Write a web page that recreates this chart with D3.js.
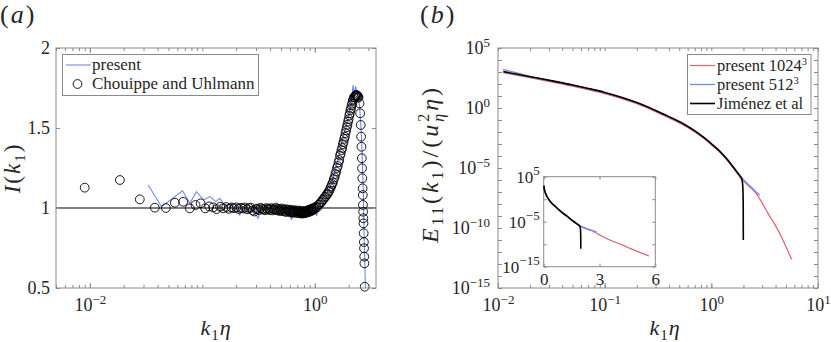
<!DOCTYPE html>
<html>
<head>
<meta charset="utf-8">
<script src="https://cdn.jsdelivr.net/npm/d3@7"></script>
<style>
  body { margin: 0; background: #fff; }
  svg { display: block; }
</style>
</head>
<body>
<script>
// ---- panel (a): I(k1) ----
const cuK = [0.0090, 0.0185, 0.0278, 0.0378, 0.0474, 0.0570, 0.0675, 0.0774, 0.0870, 0.0965, 0.106,
  0.115, 0.125, 0.134, 0.144, 0.153, 0.163, 0.172, 0.182, 0.191, 0.201, 0.210, 0.220, 0.230, 0.24, 0.25,
  0.26, 0.27, 0.28, 0.29, 0.30, 0.31, 0.32, 0.33, 0.34, 0.35, 0.36, 0.37, 0.38,
  0.39, 0.40, 0.41, 0.42, 0.43, 0.44, 0.45, 0.46, 0.47, 0.48, 0.49, 0.50, 0.51, 0.52, 0.53, 0.54, 0.55,
  0.56, 0.57, 0.58, 0.59, 0.60, 0.61, 0.62, 0.63, 0.64, 0.65, 0.66, 0.67, 0.68, 0.69, 0.70, 0.71, 0.72,
  0.73, 0.74, 0.75, 0.76, 0.77, 0.78, 0.79, 0.80, 0.81, 0.82, 0.83, 0.84, 0.85, 0.86, 0.87, 0.88, 0.89,
  0.90, 0.91, 0.92, 0.93, 0.94, 0.95, 0.96, 0.97, 0.98,
  1.000, 1.025, 1.05, 1.075, 1.10, 1.125, 1.15, 1.175, 1.20, 1.225, 1.25, 1.275, 1.30, 1.325, 1.35, 1.375,
  1.40, 1.425, 1.45, 1.475, 1.50, 1.525, 1.55, 1.575, 1.60, 1.625, 1.65, 1.675, 1.70, 1.725, 1.75, 1.775,
  1.80, 1.825, 1.85, 1.875, 1.90, 1.925, 1.95, 1.975, 2.00, 2.025, 2.05, 2.075, 2.10, 2.125, 2.15, 2.175,
  2.20, 2.225, 2.25, 2.275, 2.30, 2.325, 2.35, 2.375, 2.40, 2.425,
  2.45, 2.50, 2.53, 2.56, 2.58, 2.60, 2.62, 2.63, 2.645, 2.66, 2.67, 2.68, 2.69, 2.70, 2.71, 2.72, 2.73,
  2.74, 2.75, 2.76, 2.78];
const cuI = [1.127, 1.175, 1.054, 1.002, 1.000, 1.033, 1.039, 0.998, 1.019, 1.029, 0.998,
  1.010, 1.004, 0.993, 1.008, 0.998, 1.006, 0.995, 1.003, 0.999, 1.004, 0.994, 1.001, 0.997, 1.003, 0.992,
  0.999, 1.002, 0.985, 0.978, 0.993, 0.996, 0.987, 1.001, 0.992, 0.995, 0.986, 0.999, 0.990,
  0.996, 0.988, 0.999, 0.985, 0.993, 0.990, 1.002, 0.986, 0.995, 0.982, 0.991, 0.984, 0.997, 0.980, 0.990, 0.978, 0.992,
  0.975, 0.986, 0.990, 0.979, 0.984, 0.972, 0.988, 0.977, 0.970, 0.983, 0.975, 0.986, 0.972, 0.980, 0.968, 0.978, 0.984,
  0.970, 0.975, 0.966, 0.982, 0.972, 0.965, 0.977, 0.970, 0.980, 0.968, 0.976, 0.983, 0.971, 0.979, 0.986, 0.975, 0.984,
  0.990, 0.978, 0.987, 0.994, 0.983, 0.992, 0.998, 0.988, 1.000,
  0.995, 1.008, 1.004, 1.020, 1.022, 1.035, 1.038, 1.052, 1.055, 1.068, 1.072, 1.085, 1.088, 1.102, 1.108, 1.125,
  1.135, 1.150, 1.160, 1.180, 1.192, 1.212, 1.228, 1.250, 1.262, 1.285, 1.300, 1.328, 1.340, 1.362, 1.375, 1.398,
  1.412, 1.432, 1.445, 1.468, 1.485, 1.505, 1.520, 1.540, 1.555, 1.578, 1.592, 1.612, 1.622, 1.642, 1.652, 1.670,
  1.678, 1.690, 1.692, 1.700, 1.702, 1.706, 1.705, 1.702, 1.700, 1.695,
  1.690, 1.654, 1.592, 1.519, 1.446, 1.383, 1.311, 1.248, 1.186, 1.123, 1.081, 1.019, 0.977, 0.936, 0.904, 0.842, 0.787,
  0.748, 0.696, 0.654, 0.508];

const preK = [0.033, 0.0434, 0.0667, 0.0774, 0.0888, 0.103, 0.1166, 0.132, 0.143, 0.163, 0.18, 0.20, 0.215,
  0.23, 0.25, 0.27, 0.29, 0.313, 0.33, 0.36, 0.39, 0.42, 0.45, 0.48, 0.51, 0.55, 0.59, 0.62, 0.65, 0.69,
  0.73, 0.77, 0.81, 0.85, 0.89, 0.93, 0.97, 1.0, 1.04, 1.08, 1.12, 1.2, 1.3, 1.4, 1.5, 1.6, 1.7, 1.8,
  1.9, 2.0, 2.1, 2.19, 2.25, 2.30, 2.38, 2.5, 2.6, 2.7, 2.75, 2.82];
const preI = [1.144, 1.008, 1.108, 1.029, 1.102, 1.05, 1.071, 1.04, 1.06, 1.008, 1.03, 0.995, 0.956,
  1.01, 0.99, 1.005, 0.975, 0.935, 1.0, 0.985, 1.005, 0.97, 0.995, 0.96, 1.0, 0.975, 0.99, 0.925, 0.99, 0.96,
  0.985, 0.955, 0.99, 0.965, 1.0, 0.97, 0.99, 1.0, 0.95, 1.03, 1.03, 1.07, 1.10, 1.15, 1.22, 1.30, 1.38, 1.45,
  1.51, 1.58, 1.65, 1.769, 1.70, 1.76, 1.72, 1.64, 1.45, 1.1, 0.8, 0.5];

const aYTicks = [0.5, 1, 1.5, 2];
const aXLabels = [0.01, 1];

// ---- panel (b): E11 spectra, values are log10(E11) ----
const redK = [0.0112, 0.02, 0.035, 0.05, 0.07, 0.1, 0.14, 0.2, 0.3, 0.4, 0.55, 0.7, 0.85, 1.0, 1.2, 1.4,
  1.6, 1.8, 2.0, 2.3, 2.55, 2.9, 3.4, 4.0, 4.53, 5.1, 5.66];
const redLogE = [2.94, 2.52, 2.1, 1.82, 1.53, 1.2, 0.82, 0.35, -0.3, -0.82, -1.43, -2.0, -2.55, -3.08, -3.7, -4.35,
  -5.0, -5.6, -6.1, -6.6, -6.97, -7.7, -8.78, -9.8, -10.72, -11.7, -12.61];

const bluK = [0.0112, 0.015, 0.02, 0.035, 0.05, 0.07, 0.1, 0.14, 0.2, 0.3, 0.4, 0.55, 0.7, 0.85, 1.0, 1.2,
  1.4, 1.6, 1.8, 2.0, 2.2, 2.4, 2.6, 2.75, 2.84];
const bluLogE = [3.22, 2.93, 2.64, 2.2, 1.92, 1.63, 1.3, 0.92, 0.45, -0.2, -0.72, -1.33, -1.9, -2.45, -2.98, -3.6,
  -4.25, -4.9, -5.5, -5.95, -6.32, -6.65, -6.95, -7.15, -7.28];

const jimK = [0.0112, 0.02, 0.035, 0.05, 0.07, 0.1, 0.14, 0.2, 0.3, 0.4, 0.55, 0.7, 0.85, 1.0, 1.2, 1.4,
  1.6, 1.8, 1.9, 1.95, 1.975, 1.99, 1.995];
const jimLogE = [3.03, 2.61, 2.2, 1.92, 1.63, 1.3, 0.92, 0.45, -0.2, -0.72, -1.33, -1.9, -2.45, -2.98, -3.6, -4.25,
  -4.9, -5.5, -5.8, -6.1, -6.6, -8.0, -11.0];

const bYLabels = [1e5, 1, 1e-5, 1e-10, 1e-15];
const bXLabels = [0.01, 0.1, 1, 10];
const insetXTicks = [0, 3, 6];
const insetYTicks = [1e5, 1, 1e-5, 1e-10, 1e-15];
const insetYLabels = [1e5, 1e-5, 1e-15];

const serif = "'Liberation Serif', 'DejaVu Serif', serif";
const ink = "#262626", boxCol = "#8a8a8a";
const cBlue = "#7088f5", cRed = "#e0606e";

const svg = d3.select("body").append("svg")
  .attr("width", 831).attr("height", 342)
  .style("font-family", serif);

function supLabels(sel) {
  sel.selectAll(".tick text").each(function(d) {
    const e = Math.round(Math.log10(d));
    const t = d3.select(this).text("");
    t.append("tspan").text("10");
    t.append("tspan").attr("dy", "-0.55em").attr("font-size", 13)
      .text(e < 0 ? "\u2212" + (-e) : e);
  });
}

function styleAxis(g, size) {
  g.select(".domain").remove();
  g.selectAll(".tick line").attr("stroke", boxCol);
  g.attr("font-family", serif).attr("font-size", size || 18);
  g.selectAll(".tick text").attr("fill", ink);
}

function logMinor(lo, hi) {
  const out = [];
  for (let e = -16; e <= 6; e++) for (let m = 1; m <= 9; m++) {
    const v = m * Math.pow(10, e);
    if (v >= lo * 0.9999 && v <= hi * 1.0001) out.push(v);
  }
  return out;
}

// ================= panel (a) =================
const xa = d3.scaleLog().domain([0.005, 3.5]).range([56, 376]);
const ya = d3.scaleLinear().domain([0.5, 2]).range([288, 48]);

svg.append("line")
  .attr("x1", 56).attr("x2", 376).attr("y1", ya(1)).attr("y2", ya(1))
  .attr("stroke", "#000").attr("stroke-width", 1);

const lineA = d3.line().x(d => xa(d[0])).y(d => ya(d[1]));
svg.append("path")
  .datum(d3.zip(preK, preI))
  .attr("fill", "none").attr("stroke", cBlue).attr("stroke-width", 1.1)
  .attr("d", lineA);

svg.append("g").selectAll("circle")
  .data(d3.zip(cuK, cuI))
  .join("circle")
  .attr("cx", d => xa(d[0])).attr("cy", d => ya(d[1])).attr("r", 4.4)
  .attr("fill", "none").attr("stroke", "#000").attr("stroke-width", 0.9);

// axes (a)
svg.append("g").attr("transform", "translate(0,288)")
  .call(d3.axisBottom(xa).tickValues(logMinor(0.005, 3.5)).tickSize(-3).tickFormat(""))
  .call(styleAxis);
svg.append("g").attr("transform", "translate(0,48)")
  .call(d3.axisTop(xa).tickValues(logMinor(0.005, 3.5)).tickSize(-3).tickFormat(""))
  .call(styleAxis);
svg.append("g").attr("transform", "translate(0,288)")
  .call(d3.axisBottom(xa).tickValues(aXLabels).tickSize(-5).tickPadding(10))
  .call(styleAxis).call(supLabels);
svg.append("g").attr("transform", "translate(0,48)")
  .call(d3.axisTop(xa).tickValues(aXLabels).tickSize(-5).tickFormat(""))
  .call(styleAxis);
svg.append("g").attr("transform", "translate(56,0)")
  .call(d3.axisLeft(ya).tickValues(aYTicks).tickSize(-4).tickPadding(6).tickFormat(d3.format("")))
  .call(styleAxis);
svg.append("g").attr("transform", "translate(376,0)")
  .call(d3.axisRight(ya).tickValues(aYTicks).tickSize(-4).tickFormat(""))
  .call(styleAxis);
svg.append("rect").attr("x", 56).attr("y", 48).attr("width", 320).attr("height", 240)
  .attr("fill", "none").attr("stroke", boxCol);

// legend (a)
const legA = svg.append("g");
legA.append("rect").attr("x", 62.5).attr("y", 54.5).attr("width", 196).attr("height", 41)
  .attr("fill", "#fff").attr("stroke", boxCol);
legA.append("line").attr("x1", 66).attr("x2", 91).attr("y1", 65).attr("y2", 65)
  .attr("stroke", cBlue).attr("stroke-width", 1.1);
legA.append("text").attr("x", 92).attr("y", 70).attr("font-size", 17).attr("fill", ink).text("present");
legA.append("circle").attr("cx", 77.5).attr("cy", 84).attr("r", 4.4)
  .attr("fill", "none").attr("stroke", "#000").attr("stroke-width", 0.9);
legA.append("text").attr("x", 92).attr("y", 89).attr("font-size", 17).attr("fill", ink).text("Chouippe and Uhlmann");

// labels (a)
svg.append("text").attr("x", 0).attr("y", 23).attr("font-size", 26).attr("letter-spacing", 2).attr("fill", ink)
  .html('(<tspan font-style="italic">a</tspan>)');
const ylabA = svg.append("text").attr("transform", "translate(20,168) rotate(-90)")
  .attr("text-anchor", "middle").attr("font-size", 23).attr("letter-spacing", 2).attr("fill", ink);
ylabA.append("tspan").attr("font-style", "italic").text("I");
ylabA.append("tspan").text("(");
ylabA.append("tspan").attr("font-style", "italic").text("k");
ylabA.append("tspan").attr("font-size", 15).attr("dy", 5).text("1");
ylabA.append("tspan").attr("dy", -5).text(")");
const xlabA = svg.append("text").attr("x", 216).attr("y", 335)
  .attr("text-anchor", "middle").attr("font-size", 22).attr("letter-spacing", 1).attr("fill", ink);
xlabA.append("tspan").attr("font-style", "italic").text("k");
xlabA.append("tspan").attr("font-size", 15).attr("dy", 5).text("1");
xlabA.append("tspan").attr("font-style", "italic").attr("dy", -5).text("\u03b7");

// ================= panel (b) =================
const xb = d3.scaleLog().domain([0.01, 10]).range([498, 818]);
const yb = d3.scaleLog().domain([1e-15, 1e5]).range([288, 48]);

const series = [
  { k: redK, e: redLogE, color: cRed, w: 1.2 },
  { k: bluK, e: bluLogE, color: cBlue, w: 1.3 },
  { k: jimK, e: jimLogE, color: "#000", w: 1.6 }
];

const lineB = d3.line().curve(d3.curveMonotoneX).x(d => xb(d[0])).y(d => yb(Math.pow(10, d[1])));
series.forEach(s => {
  svg.append("path").datum(d3.zip(s.k, s.e))
    .attr("fill", "none").attr("stroke", s.color).attr("stroke-width", s.w)
    .attr("d", lineB);
});

svg.append("g").attr("transform", "translate(0,288)")
  .call(d3.axisBottom(xb).tickValues(logMinor(0.01, 10)).tickSize(-3).tickFormat(""))
  .call(styleAxis);
svg.append("g").attr("transform", "translate(0,48)")
  .call(d3.axisTop(xb).tickValues(logMinor(0.01, 10)).tickSize(-3).tickFormat(""))
  .call(styleAxis);
svg.append("g").attr("transform", "translate(0,288)")
  .call(d3.axisBottom(xb).tickValues(bXLabels).tickSize(-5).tickPadding(10))
  .call(styleAxis).call(supLabels);
const decades = d3.range(-15, 6).map(e => Math.pow(10, e));
svg.append("g").attr("transform", "translate(498,0)")
  .call(d3.axisLeft(yb).tickValues(decades).tickSize(-4).tickFormat(""))
  .call(styleAxis);
svg.append("g").attr("transform", "translate(818,0)")
  .call(d3.axisRight(yb).tickValues(decades).tickSize(-4).tickFormat(""))
  .call(styleAxis);
svg.append("g").attr("transform", "translate(498,0)")
  .call(d3.axisLeft(yb).tickValues(bYLabels).tickSize(0).tickPadding(8))
  .call(styleAxis).call(supLabels);
svg.append("rect").attr("x", 498).attr("y", 48).attr("width", 320).attr("height", 240)
  .attr("fill", "none").attr("stroke", boxCol);

// inset
const xi = d3.scaleLinear().domain([0, 6]).range([543.7, 655.3]);
const yi = d3.scaleLog().domain([1e-15, 1e5]).range([266.7, 176.7]);
svg.append("rect").attr("x", 543.7).attr("y", 176.7).attr("width", 111.6).attr("height", 90)
  .attr("fill", "#fff").attr("stroke", boxCol);
const lineI = d3.line().curve(d3.curveMonotoneX).x(d => xi(d[0])).y(d => yi(Math.pow(10, d[1])));
series.forEach(s => {
  svg.append("path").datum(d3.zip(s.k, s.e))
    .attr("fill", "none").attr("stroke", s.color).attr("stroke-width", s.w)
    .attr("d", lineI);
});
svg.append("g").attr("transform", "translate(0,266.7)")
  .call(d3.axisBottom(xi).tickValues(insetXTicks).tickSize(-3).tickPadding(6).tickFormat(d3.format("")))
  .call(g => styleAxis(g, 17));
svg.append("g").attr("transform", "translate(0,176.7)")
  .call(d3.axisTop(xi).tickValues(insetXTicks).tickSize(-3).tickFormat(""))
  .call(g => styleAxis(g, 17));
svg.append("g").attr("transform", "translate(543.7,0)")
  .call(d3.axisLeft(yi).tickValues(insetYTicks).tickSize(-3).tickFormat(""))
  .call(g => styleAxis(g, 17));
svg.append("g").attr("transform", "translate(655.3,0)")
  .call(d3.axisRight(yi).tickValues(insetYTicks).tickSize(-3).tickFormat(""))
  .call(g => styleAxis(g, 17));
svg.append("g").attr("transform", "translate(543.7,0)")
  .call(d3.axisLeft(yi).tickValues(insetYLabels).tickSize(0).tickPadding(4))
  .call(g => styleAxis(g, 17)).call(supLabels);

// legend (b)
const legB = svg.append("g");
legB.append("rect").attr("x", 687.5).attr("y", 54.5).attr("width", 123.5).attr("height", 60)
  .attr("fill", "#fff").attr("stroke", boxCol);
const legRows = [
  { label: "present 1024", sup: "3", color: cRed, w: 1.2 },
  { label: "present 512", sup: "3", color: cBlue, w: 1.3 },
  { label: "Jim\u00e9nez et al", sup: "", color: "#000", w: 1.6 }
];
legRows.forEach((r, i) => {
  const y = 65.5 + i * 19;
  legB.append("line").attr("x1", 690).attr("x2", 715).attr("y1", y).attr("y2", y)
    .attr("stroke", r.color).attr("stroke-width", r.w);
  const t = legB.append("text").attr("x", 717).attr("y", y + 5).attr("font-size", 16.5).attr("fill", ink);
  t.append("tspan").text(r.label);
  if (r.sup) t.append("tspan").attr("dy", -6).attr("font-size", 10.5).text(r.sup);
});

// labels (b)
svg.append("text").attr("x", 420).attr("y", 23).attr("font-size", 26).attr("letter-spacing", 2).attr("fill", ink)
  .html('(<tspan font-style="italic">b</tspan>)');
const xlabB = svg.append("text").attr("x", 665).attr("y", 335)
  .attr("text-anchor", "middle").attr("font-size", 22).attr("letter-spacing", 1).attr("fill", ink);
xlabB.append("tspan").attr("font-style", "italic").text("k");
xlabB.append("tspan").attr("font-size", 15).attr("dy", 5).text("1");
xlabB.append("tspan").attr("font-style", "italic").attr("dy", -5).text("\u03b7");

const ylabB = svg.append("text").attr("transform", "translate(438,164) rotate(-90)")
  .attr("text-anchor", "middle").attr("font-size", 24).attr("letter-spacing", 3).attr("fill", ink);
ylabB.append("tspan").attr("font-style", "italic").text("E");
ylabB.append("tspan").attr("font-size", 16).attr("dy", 5).text("11");
ylabB.append("tspan").attr("dy", -5).text("(");
ylabB.append("tspan").attr("font-style", "italic").text("k");
ylabB.append("tspan").attr("font-size", 16).attr("dy", 5).text("1");
ylabB.append("tspan").attr("dy", -5).text(")/(");
ylabB.append("tspan").attr("font-style", "italic").text("u");
ylabB.append("tspan").attr("font-size", 16).attr("dy", -9).text("2");
ylabB.append("tspan").attr("font-size", 16).attr("font-style", "italic").attr("dx", -11).attr("dy", 15).text("\u03b7");
ylabB.append("tspan").attr("font-style", "italic").attr("dy", -6).text("\u03b7");
ylabB.append("tspan").text(")");
</script>
</body>
</html>
